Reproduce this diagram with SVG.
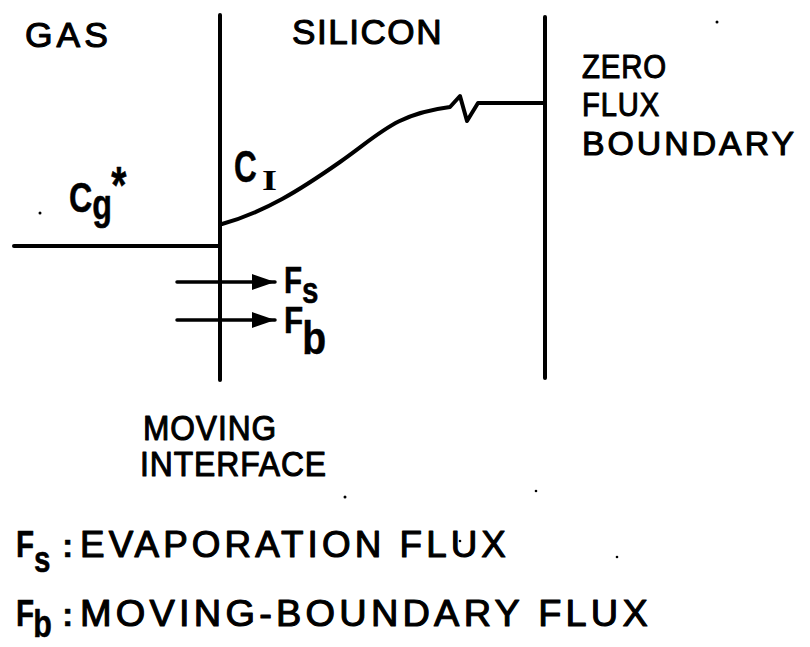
<svg xmlns="http://www.w3.org/2000/svg" width="810" height="647" viewBox="0 0 810 647">
<style>
.t{font-family:"Liberation Sans",Arial,sans-serif;font-weight:normal;fill:#000;stroke:#000;stroke-width:1.1;stroke-linejoin:round}
.m{font-family:"Liberation Sans",Arial,sans-serif;font-weight:bold;fill:#000;stroke:#000;stroke-width:0.5;stroke-linejoin:round}
.ln{stroke:#000;fill:none;stroke-linecap:round;stroke-linejoin:round}
.dot{fill:#000}
</style>
<defs>
<marker id="ah" markerUnits="userSpaceOnUse" markerWidth="24" markerHeight="18" refX="23" refY="8" orient="auto">
<path d="M0,0 L23,8 L0,16 Z" fill="#000"/>
</marker>
</defs>
<rect width="810" height="647" fill="#fff"/>

<g id="region-labels">
<text class="t" x="25" y="47" font-size="35" letter-spacing="4" textLength="87" lengthAdjust="spacingAndGlyphs">GAS</text>
<text class="t" x="292" y="44" font-size="35" letter-spacing="1.5" textLength="151" lengthAdjust="spacingAndGlyphs">SILICON</text>
</g>

<g id="interface">
<line class="ln" x1="220" y1="15" x2="220" y2="380" stroke-width="4"/>
</g>

<g id="zero-flux-boundary">
<line class="ln" x1="545" y1="17" x2="545" y2="378" stroke-width="4"/>
<text class="t" x="582" y="78" font-size="34" letter-spacing="1" textLength="85" lengthAdjust="spacingAndGlyphs">ZERO</text>
<text class="t" x="582" y="116" font-size="34" letter-spacing="1" textLength="78" lengthAdjust="spacingAndGlyphs">FLUX</text>
<text class="t" x="582" y="155" font-size="34" letter-spacing="3" textLength="215" lengthAdjust="spacingAndGlyphs">BOUNDARY</text>
</g>

<g id="gas-concentration">
<line class="ln" x1="14" y1="246" x2="220" y2="246" stroke-width="4"/>
<text class="m" transform="translate(69,212) scale(0.75,1)"><tspan font-size="43">C</tspan><tspan font-size="43" dy="7">g</tspan><tspan font-size="52" dx="-1" dy="-16">*</tspan></text>
</g>

<g id="silicon-profile">
<path class="ln" stroke-width="4" d="M222,224 C265,212 300,190 340,162 S395,114 450,107 L460,96 L467,121 L478,103 L545,103"/>
<text class="m" transform="translate(234,182) scale(0.7,1)" font-size="45">C</text>
<text x="262" y="190" font-size="30" font-family="Liberation Serif,serif" font-weight="bold" textLength="15" lengthAdjust="spacingAndGlyphs">I</text>
</g>

<g id="connectors">
<line class="ln" x1="177" y1="282" x2="275" y2="282" stroke-width="3.5" marker-end="url(#ah)"/>
<line class="ln" x1="177" y1="320" x2="275" y2="320" stroke-width="3.5" marker-end="url(#ah)"/>
</g>

<g id="flux-labels">
<text class="m" transform="translate(284,293) scale(0.8,1)"><tspan font-size="37">F</tspan><tspan font-size="37" dy="10">s</tspan></text>
<text class="m" transform="translate(284,333) scale(0.85,1)"><tspan font-size="37">F</tspan><tspan font-size="46" dx="-1" dy="21">b</tspan></text>
</g>

<g id="interface-label">
<text class="t" x="143" y="440" font-size="35" letter-spacing="1" textLength="134" lengthAdjust="spacingAndGlyphs">MOVING</text>
<text class="t" x="140" y="476" font-size="35" letter-spacing="1" textLength="187" lengthAdjust="spacingAndGlyphs">INTERFACE</text>
</g>

<g id="legend">
<text class="m" transform="translate(16,557) scale(0.8,1)"><tspan font-size="37">F</tspan><tspan font-size="37" dy="15">s</tspan></text>
<text class="m" x="62" y="557" font-size="34">:</text>
<text class="t" x="80" y="557" font-size="36" letter-spacing="4" textLength="430" lengthAdjust="spacingAndGlyphs">EVAPORATION FLUX</text>
<text class="m" transform="translate(16,626) scale(0.8,1)"><tspan font-size="37">F</tspan><tspan font-size="38" dx="-1" dy="11">b</tspan></text>
<text class="m" x="62" y="626" font-size="34">:</text>
<text class="t" x="80" y="626" font-size="36" letter-spacing="4" textLength="572" lengthAdjust="spacingAndGlyphs">MOVING-BOUNDARY FLUX</text>
</g>

<g id="specks">
<circle class="dot" cx="40" cy="213" r="1.5"/>
<circle class="dot" cx="717" cy="22" r="1.5"/>
<circle class="dot" cx="345" cy="497" r="1.5"/>
<circle class="dot" cx="536" cy="491" r="1.3"/>
<circle class="dot" cx="460" cy="541" r="1.3"/>
<circle class="dot" cx="617" cy="557" r="1.3"/>
</g>
</svg>
